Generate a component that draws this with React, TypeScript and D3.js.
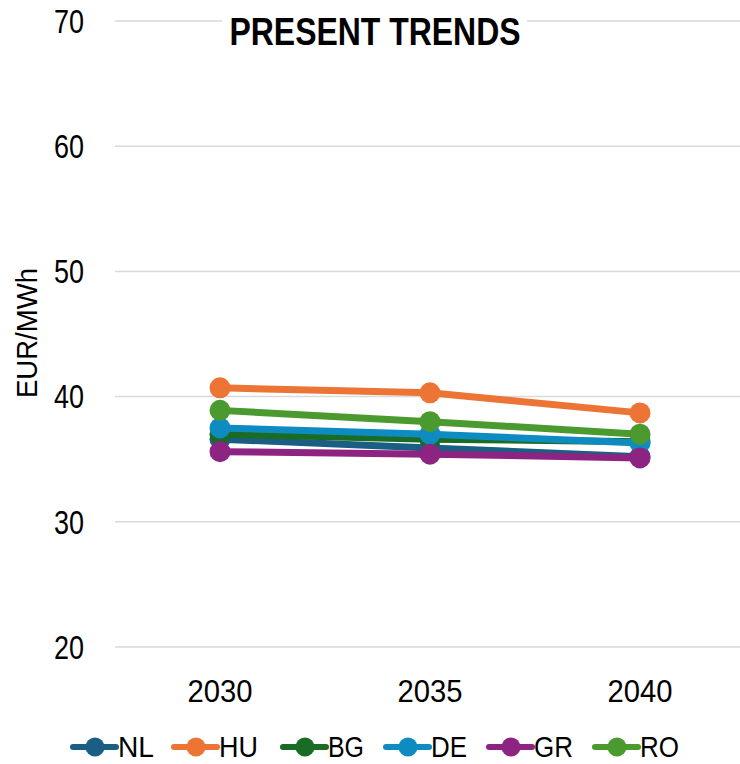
import React from "react";
import * as d3 from "d3";

const years = ["2030", "2035", "2040"];
const seriesNames = ["NL", "HU", "BG", "DE", "GR", "RO"];
const nlValues = [36.6, 35.9, 35.2];
const huValues = [40.7, 40.3, 38.7];
const bgValues = [37.0, 36.6, 36.4];
const deValues = [37.5, 37.0, 36.3];
const grValues = [35.6, 35.4, 35.1];
const roValues = [38.9, 38.0, 37.0];
const yTicks = [20, 30, 40, 50, 60, 70];
const colors = ["#1b5e84", "#ec7434", "#1a6b24", "#0e8cc2", "#8d2482", "#4b9a2f"];
const title = "PRESENT TRENDS";
const yLabel = "EUR/MWh";

const FONT = "'Liberation Sans Narrow', 'Liberation Sans', Arial, sans-serif";

export default function App() {
  const W = 740, H = 764;
  const allValues = [nlValues, huValues, bgValues, deValues, grValues, roValues];
  const x = d3.scaleBand<string>().domain(years).range([115, 745]);
  const y = d3.scaleLinear().domain([20, 70]).range([647, 21]);
  const line = d3
    .line<number>()
    .x((_, i) => (x(years[i]) as number) + x.bandwidth() / 2)
    .y((d) => y(d));

  const legendX = [95, 196, 305, 408, 511, 617];

  return (
    <svg
      width={W}
      height={H}
      style={{ position: "absolute", left: 0, top: 0, background: "#fff" }}
      fontFamily={FONT}
    >
      <rect width={W} height={H} fill="#fff" />
      {yTicks.map((t) => (
        <g key={t}>
          <line x1={115} x2={740} y1={y(t)} y2={y(t)} stroke="#d9d9d9" strokeWidth={1.5} />
          <text x={84} y={y(t)} dy="0.36em" textAnchor="end" fontSize={33} textLength={30} lengthAdjust="spacingAndGlyphs" fill="#000">
            {t}
          </text>
        </g>
      ))}
      <rect x={222} y={13} width={305} height={38} fill="#fff" />
      <text x={375} y={45} textAnchor="middle" fontSize={38} fontWeight="bold" textLength={291} lengthAdjust="spacingAndGlyphs" fill="#000">
        {title}
      </text>
      <text
        transform={`translate(37,333) rotate(-90)`}
        textAnchor="middle"
        fontSize={30}
        textLength={130}
        lengthAdjust="spacingAndGlyphs"
        fill="#000"
      >
        {yLabel}
      </text>
      {years.map((yr) => (
        <text key={yr} x={(x(yr) as number) + x.bandwidth() / 2} y={702} textAnchor="middle" fontSize={32} textLength={65} lengthAdjust="spacingAndGlyphs" fill="#000">
          {yr}
        </text>
      ))}
      {allValues.map((vals, si) => (
        <g key={seriesNames[si]}>
          <path d={line(vals) || ""} fill="none" stroke={colors[si]} strokeWidth={7} strokeLinejoin="round" strokeLinecap="round" />
          {vals.map((v, i) => (
            <circle key={i} cx={(x(years[i]) as number) + x.bandwidth() / 2} cy={y(v)} r={10.5} fill={colors[si]} />
          ))}
        </g>
      ))}
      {seriesNames.map((name, si) => (
        <g key={name}>
          <line x1={legendX[si] - 22} x2={legendX[si] + 21} y1={747} y2={747} stroke={colors[si]} strokeWidth={6} strokeLinecap="round" />
          <circle cx={legendX[si]} cy={747} r={9.5} fill={colors[si]} />
          <text x={legendX[si] + 23} y={757} fontSize={30} textLength={name === "GR" || name === "HU" || name === "RO" ? 39 : 36} lengthAdjust="spacingAndGlyphs" fill="#000">
            {name}
          </text>
        </g>
      ))}
    </svg>
  );
}
